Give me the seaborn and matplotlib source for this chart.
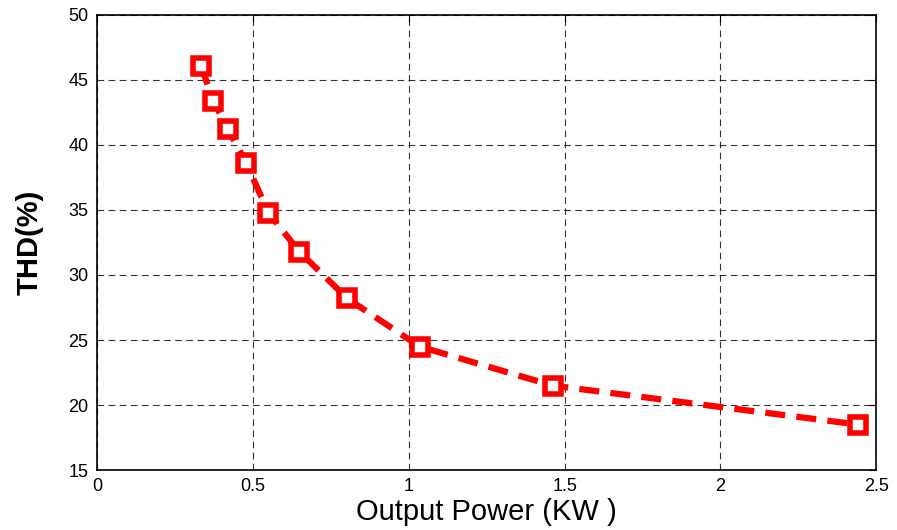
import matplotlib
matplotlib.use('Agg')
import matplotlib.pyplot as plt
import seaborn as sns
import pandas as pd

# valores
output_power = [0.334, 0.373, 0.421, 0.479, 0.55, 0.649, 0.803, 1.035, 1.462, 2.442]
thd = [46.1, 43.4, 41.2, 38.6, 34.8, 31.8, 28.2, 24.5, 21.5, 18.5]
x_ticks = [0, 0.5, 1, 1.5, 2, 2.5]
y_ticks = [15, 20, 25, 30, 35, 40, 45, 50]

df = pd.DataFrame({'power': output_power, 'thd': thd})

sns.set_style('white')
plt.rcParams['font.family'] = ['Liberation Sans', 'DejaVu Sans']
plt.rcParams['text.color'] = 'black'
plt.rcParams['axes.labelcolor'] = 'black'
plt.rcParams['xtick.color'] = 'black'
plt.rcParams['ytick.color'] = 'black'

fig = plt.figure(figsize=(8.97, 5.3), dpi=100)
ax = fig.add_axes([0.108, 0.113, 0.869, 0.859])

sns.lineplot(data=df, x='power', y='thd', ax=ax, color='red', linewidth=4.5,
             linestyle=(0, (3.2, 1.8)), marker='s', markersize=11,
             markerfacecolor='white', markeredgecolor='red', markeredgewidth=4)

ax.set_xlim(0, 2.5)
ax.set_ylim(15, 50)
ax.set_xticks(x_ticks)
ax.set_xticklabels(['0', '0.5', '1', '1.5', '2', '2.5'])
ax.set_yticks(y_ticks)
ax.grid(True, color='black', linestyle=(0, (6, 4)), linewidth=0.8, alpha=0.8)
ax.tick_params(direction='in', length=5, labelsize=13, top=True, right=True, pad=6)
for s in ax.spines.values():
    s.set_color('black')
    s.set_linewidth(1.2)

ax.set_xlabel('Output Power (KW )', fontsize=21, labelpad=2)
ax.set_ylabel('THD(%)', fontsize=21, fontweight='bold', labelpad=18)

fig.savefig('out.png', dpi=100)
